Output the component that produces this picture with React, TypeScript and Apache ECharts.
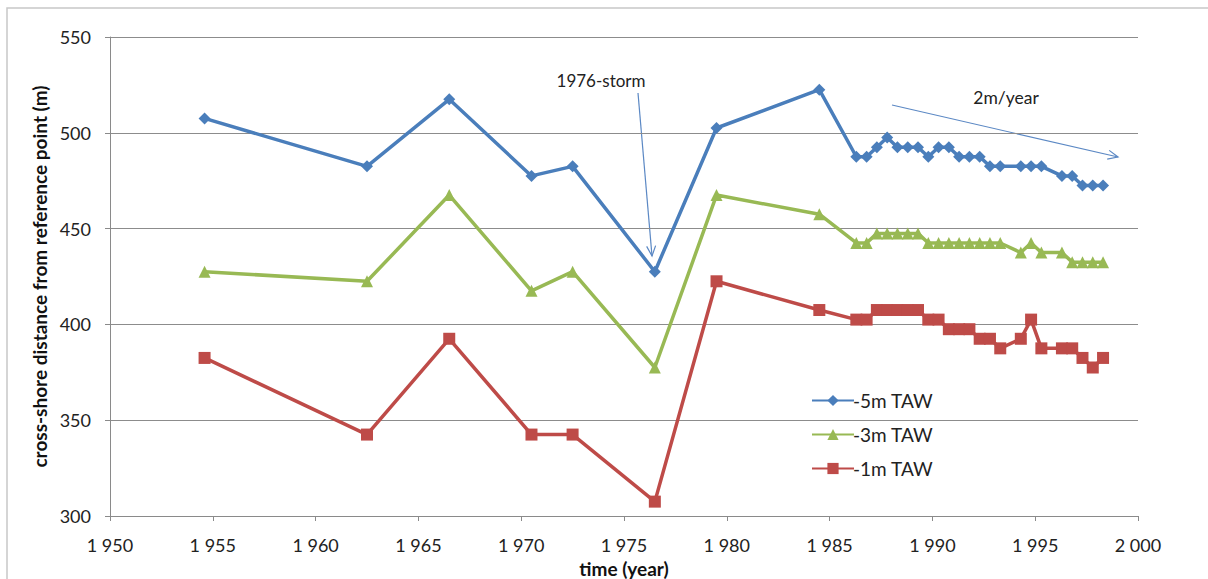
import React, { useEffect, useRef } from "react";
import * as echarts from "echarts";

// Survey years shared by the three depth contours
const years = [
  1954.6, 1962.5, 1966.5, 1970.5, 1972.5, 1976.5, 1979.5, 1984.5,
  1986.3, 1986.8, 1987.3, 1987.8, 1988.3, 1988.8, 1989.3, 1989.8,
  1990.3, 1990.8, 1991.3, 1991.8, 1992.3, 1992.8, 1993.3, 1994.3,
  1994.8, 1995.3, 1996.3, 1996.8, 1997.3, 1997.8, 1998.3,
];

// Cross-shore distance (m) of each contour
const minus5m = [
  507.5, 482.5, 517.5, 477.5, 482.5, 427.5, 502.5, 522.5,
  487.5, 487.5, 492.5, 497.5, 492.5, 492.5, 492.5, 487.5,
  492.5, 492.5, 487.5, 487.5, 487.5, 482.5, 482.5, 482.5,
  482.5, 482.5, 477.5, 477.5, 472.5, 472.5, 472.5,
];
const minus3m = [
  427.5, 422.5, 467.5, 417.5, 427.5, 377.5, 467.5, 457.5,
  442.5, 442.5, 447.5, 447.5, 447.5, 447.5, 447.5, 442.5,
  442.5, 442.5, 442.5, 442.5, 442.5, 442.5, 442.5, 437.5,
  442.5, 437.5, 437.5, 432.5, 432.5, 432.5, 432.5,
];
const minus1m = [
  382.5, 342.5, 392.5, 342.5, 342.5, 307.5, 422.5, 407.5,
  402.5, 402.5, 407.5, 407.5, 407.5, 407.5, 407.5, 402.5,
  402.5, 397.5, 397.5, 397.5, 392.5, 392.5, 387.5, 392.5,
  402.5, 387.5, 387.5, 387.5, 382.5, 377.5, 382.5,
];

const seriesNames = ["-5m TAW", "-3m TAW", "-1m TAW"];
const yTicks = { min: 300, max: 550, step: 50 };
const xTicks = { min: 1950, max: 2000, step: 5 };

const FONT = "Lato, 'Open Sans', sans-serif";
const ARROW = "#5b88c4";

// Thin arrow: shaft plus an open V head at the end point
function arrow(x1: number, y1: number, x2: number, y2: number) {
  const dx = x2 - x1;
  const dy = y2 - y1;
  const len = Math.sqrt(dx * dx + dy * dy);
  const ux = dx / len;
  const uy = dy / len;
  const head = 11;
  const spread = 0.42;
  const c = Math.cos(spread);
  const s = Math.sin(spread);
  const ax = x2 - head * (ux * c - uy * s);
  const ay = y2 - head * (uy * c + ux * s);
  const bx = x2 - head * (ux * c + uy * s);
  const by = y2 - head * (uy * c - ux * s);
  const style = { stroke: ARROW, lineWidth: 1.2, fill: "none" };
  return [
    { type: "line", shape: { x1, y1, x2, y2 }, style },
    { type: "polyline", shape: { points: [[ax, ay], [x2, y2], [bx, by]] }, style },
  ];
}

function pairs(values: number[]) {
  return years.map((y, i) => [y, values[i]]);
}

export default function App() {
  const ref = useRef<HTMLDivElement>(null);

  useEffect(() => {
    if (!ref.current) return;
    const chart = echarts.init(ref.current, undefined, { renderer: "svg" });

    const lineSeries = (name: string, data: number[], color: string, symbol: string, size: number) => ({
      name,
      type: "line",
      data: pairs(data),
      symbol,
      symbolSize: size,
      lineStyle: { color, width: 3.5 },
      itemStyle: { color },
      z: 3,
    });

    chart.setOption({
      animation: false,
      backgroundColor: "#ffffff",
      textStyle: { fontFamily: FONT },
      grid: { left: 110, right: 70, top: 37, bottom: 63, outerBoundsMode: "none", containLabel: false },
      legend: {
        orient: "vertical",
        left: 806,
        top: 386,
        itemWidth: 42,
        itemHeight: 14,
        itemGap: 15,
        data: seriesNames,
        textStyle: { fontFamily: FONT, fontSize: 19, color: "#222", padding: [0, 0, 0, -6] },
      },
      xAxis: {
        type: "value",
        min: xTicks.min,
        max: xTicks.max,
        interval: xTicks.step,
        name: "time (year)",
        nameLocation: "middle",
        nameGap: 37,
        nameTextStyle: { fontFamily: FONT, fontSize: 19, fontWeight: "bold", color: "#111" },
        axisLine: { lineStyle: { color: "#8a8a8a", width: 1 } },
        axisTick: { show: true, length: 5, lineStyle: { color: "#8a8a8a" } },
        splitLine: { show: false },
        axisLabel: {
          margin: 20,
          fontSize: 18,
          color: "#222",
          fontFamily: FONT,
          formatter: (v: number) => {
            const s = String(Math.round(v));
            return s.slice(0, 1) + " " + s.slice(1);
          },
        },
      },
      yAxis: {
        type: "value",
        min: yTicks.min,
        max: yTicks.max,
        interval: yTicks.step,
        name: "cross-shore distance from reference point (m)",
        nameLocation: "middle",
        nameGap: 55,
        nameTextStyle: { fontFamily: FONT, fontSize: 19, fontWeight: "bold", color: "#111" },
        axisLine: { show: true, lineStyle: { color: "#8a8a8a", width: 1 } },
        axisTick: { show: true, length: 5, lineStyle: { color: "#8a8a8a" } },
        splitLine: { show: true, lineStyle: { color: "#8c8c8c", width: 1 } },
        axisLabel: { margin: 19, fontSize: 18, color: "#222", fontFamily: FONT },
      },
      series: [
        lineSeries(seriesNames[0], minus5m, "#4a7ebb", "diamond", 12),
        lineSeries(seriesNames[1], minus3m, "#98b954", "triangle", 12),
        lineSeries(seriesNames[2], minus1m, "#be4b48", "rect", 12),
      ],
      graphic: [
        {
          type: "rect",
          silent: true,
          shape: { x: 7, y: 8, width: 1230, height: 600 },
          style: { fill: "none", stroke: "#c8c8c8", lineWidth: 1.5 },
        },
        {
          type: "text",
          x: 601,
          y: 80,
          style: { text: "1976-storm", font: `17px ${FONT}`, fill: "#222", align: "center", verticalAlign: "middle" },
        },
        ...arrow(638, 93, 652, 256),
        {
          type: "text",
          x: 1006,
          y: 97,
          style: { text: "2m/year", font: `17.5px ${FONT}`, fill: "#222", align: "center", verticalAlign: "middle" },
        },
        ...arrow(892, 105, 1118, 157),
      ],
    });

    return () => chart.dispose();
  }, []);

  return (
    <div
      ref={ref}
      style={{ position: "fixed", left: 0, top: 0, width: 1208, height: 579 }}
    />
  );
}
